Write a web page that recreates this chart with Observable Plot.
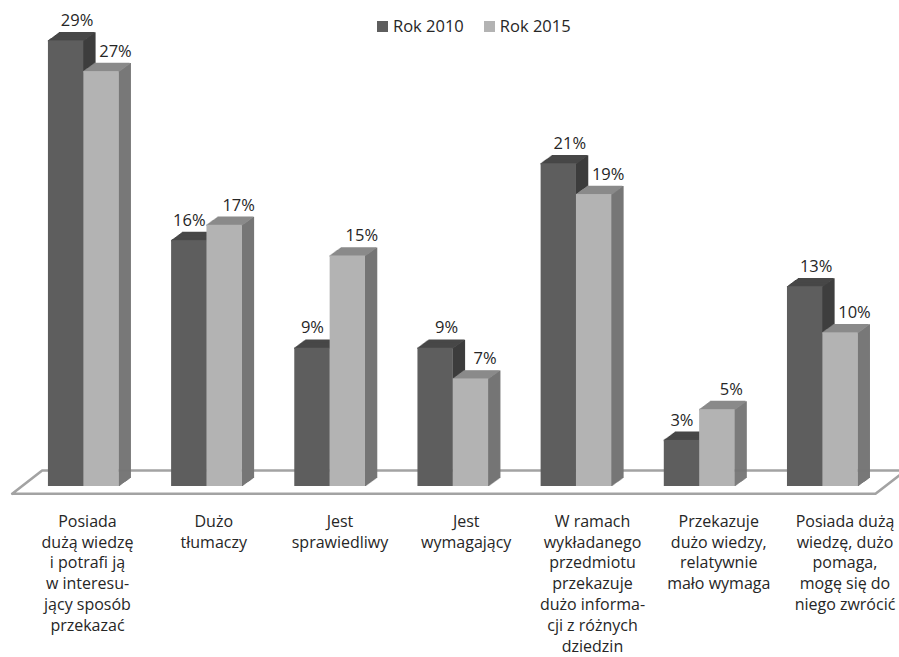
<!DOCTYPE html>
<html>
<head>
<meta charset="utf-8">
<script src="https://cdn.jsdelivr.net/npm/d3@7"></script>
<script src="https://cdn.jsdelivr.net/npm/@observablehq/plot@0.6"></script>
<style>
  html, body { margin: 0; padding: 0; background: #fff; }
  #wrap { position: relative; width: 899px; height: 657px; overflow: hidden; font-family: "Open Sans", sans-serif; }
  #legend { position: absolute; left: 377px; top: 16px; display: flex; align-items: center; font-size: 16.5px; line-height: 20px; color: #262626; }
  #legend .sw { width: 11px; height: 11px; display: inline-block; margin-right: 5px; }
  #legend .item { display: flex; align-items: center; margin-right: 20px; }
</style>
</head>
<body>
<div id="wrap"><div id="chart"></div><div id="legend"></div></div>
<script>
// ---- data ----
const categories = [
  "Posiada\ndużą wiedzę\ni potrafi ją\nw interesu-\njący sposób\nprzekazać",
  "Dużo\ntłumaczy",
  "Jest\nsprawiedliwy",
  "Jest\nwymagający",
  "W ramach\nwykładanego\nprzedmiotu\nprzekazuje\ndużo informa-\ncji z różnych\ndziedzin",
  "Przekazuje\ndużo wiedzy,\nrelatywnie\nmało wymaga",
  "Posiada dużą\nwiedzę, dużo\npomaga,\nmogę się do\nniego zwrócić"
];
const series = ["Rok 2010", "Rok 2015"];
const rok2010 = [29, 16, 9, 9, 21, 3, 13];
const rok2015 = [27, 17, 15, 7, 19, 5, 10];

// ---- styling ----
const frontColors = ["#5e5e5e", "#b3b3b3"];
const topColors = ["#474747", "#8a8a8a"];
const sideColors = ["#3d3d3d", "#767676"];
const W = 0.287;          // bar width in category units
const DEPTH_X = 11, DEPTH_Y = 8;

const values = [rok2010, rok2015];
const rows = [];
categories.forEach((cat, i) => {
  series.forEach((s, si) => {
    const x1 = si === 0 ? i - W : i;
    const x2 = si === 0 ? i : i + W;
    rows.push({i, cat, series: s, si, value: values[si][i], other: values[1 - si][i], x1, x2, xc: (x1 + x2) / 2});
  });
});
const catRows = categories.map((cat, i) => ({i, cat}));

// floor (decorative plane under the bars), in data units
const n = categories.length;
const floor = [
  {x: -0.581, y: -0.475},
  {x: n - 1 + 0.428, y: -0.475},
  {x: n - 1 + 0.672, y: 1.04},
  {x: -0.338, y: 1.04},
  {x: -0.581, y: -0.475}
];

const marks = [];
marks.push(Plot.line(floor, {x: "x", y: "y", stroke: "#a3a3a3", strokeWidth: 2.6, strokeLinejoin: "miter"}));

series.forEach((s, si) => {
  const data = rows.filter(d => d.si === si);
  for (let k = 0; k <= DEPTH_X; k++) {
    const dy = -k * DEPTH_Y / DEPTH_X;
    marks.push(Plot.ruleX(data, {x: "x2", y1: 0, y2: "value", stroke: sideColors[si], strokeWidth: 1.6, dx: k, dy}));
  }
  for (let k = 0; k <= DEPTH_X; k++) {
    const dy = -k * DEPTH_Y / DEPTH_X;
    marks.push(Plot.ruleY(data, {y: "value", x1: "x1", x2: "x2", stroke: topColors[si], strokeWidth: 1.6, dx: k, dy}));
  }
});

marks.push(Plot.rectY(rows, {x1: "x1", x2: "x2", y: "value", fill: "series"}));

// value labels
const labelStyle = {fontSize: 16.5, fill: "#262626", lineAnchor: "middle", text: d => d.value + "%"};
marks.push(Plot.text(rows.filter(d => d.si === 0 && d.value > d.other), {x: "xc", y: "value", dx: 11, dy: -20, ...labelStyle}));
marks.push(Plot.text(rows.filter(d => d.si === 0 && d.value <= d.other), {x: "xc", y: "value", dx: 0, dy: -20, ...labelStyle}));
marks.push(Plot.text(rows.filter(d => d.si === 1), {x: "xc", y: "value", dx: 14, dy: -20, ...labelStyle}));

// category labels (spread slightly, as on the front edge of the floor)
marks.push(Plot.text(catRows, {
  x: d => 0.03 + d.i * 1.025, y: 0, text: "cat",
  lineAnchor: "top", dy: 25.5, fontSize: 16, lineHeight: 1.3, fill: "#262626"
}));

const chart = Plot.plot({
  width: 899,
  height: 657,
  marginLeft: 21.7,
  marginRight: 15.1,
  marginTop: 25,
  marginBottom: 171,
  x: {domain: [-0.5, n - 0.5], axis: null},
  y: {domain: [0, 30], axis: null},
  color: {domain: series, range: frontColors},
  style: {fontFamily: "Open Sans", fontSize: "16px", color: "#262626", background: "#fff", overflow: "hidden"},
  marks
});
document.getElementById("chart").appendChild(chart);

// legend
const legend = document.getElementById("legend");
series.forEach((s, si) => {
  const item = document.createElement("span");
  item.className = "item";
  const sw = document.createElement("span");
  sw.className = "sw";
  sw.style.background = frontColors[si];
  item.appendChild(sw);
  item.appendChild(document.createTextNode(s));
  legend.appendChild(item);
});
</script>
</body>
</html>
